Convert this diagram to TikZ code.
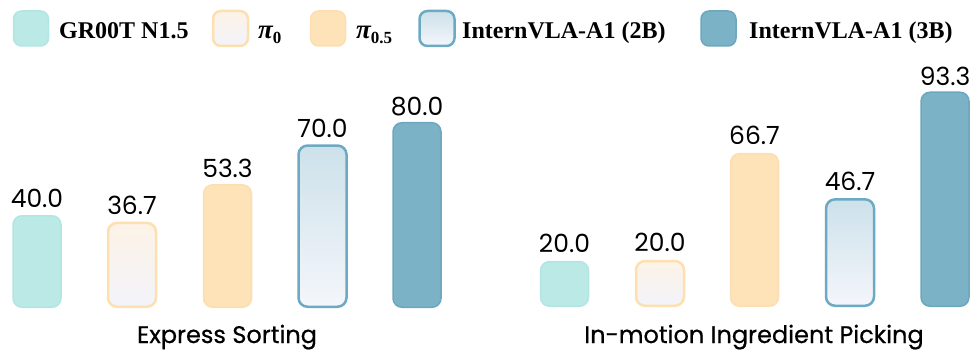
\documentclass[tikz,border=0pt]{standalone}
\usepackage{fontspec}
\setmainfont{Liberation Serif}
\newfontfamily\numfont{Poppins}
\newfontfamily\ttlfont{Poppins}[FakeBold=0.6]
\usetikzlibrary{calc}
\definecolor{grfill}{HTML}{BBE9E6}
\definecolor{grline}{HTML}{B2E5E3}
\definecolor{pitop}{HTML}{FDF3E7}
\definecolor{pibot}{HTML}{F2F3FA}
\definecolor{piline}{HTML}{FDDFB0}
\definecolor{pfill}{HTML}{FEE2B8}
\definecolor{pline}{HTML}{FCDEB2}
\definecolor{itop}{HTML}{CDE1EA}
\definecolor{ibot}{HTML}{F4F6FB}
\definecolor{iline}{HTML}{6CA9C2}
\definecolor{bfill}{HTML}{7BB2C6}
\definecolor{bline}{HTML}{6CA7BE}
\newcommand{\pisub}[1]{{\bfseries\itshape\fontsize{27}{30}\selectfont π}\raisebox{-5pt}{\fontsize{17}{20}\selectfont\bfseries #1}}
\begin{document}
\begin{tikzpicture}[x=1pt,y=-1pt,
 bar/.style={rounded corners=9pt, minimum width=48pt, inner sep=0pt, anchor=south},
 grs/.style={fill=grfill, draw=grline, line width=1.5pt},
 pizs/.style={top color=pitop, bottom color=pibot, draw=piline, line width=2.5pt},
 pifs/.style={fill=pfill, draw=pline, line width=1.5pt},
 itws/.style={top color=itop, bottom color=ibot, draw=iline, line width=2.5pt},
 iths/.style={fill=bfill, draw=bline, line width=1.5pt},
 val/.style={font=\numfont\fontsize{25}{30}\selectfont, anchor=base, inner sep=0pt},
 ttl/.style={font=\ttlfont\fontsize{24}{28}\selectfont, anchor=base, inner sep=0pt},
 key/.style={rounded corners=8pt, minimum size=35pt, inner sep=0pt},
 lab/.style={font=\bfseries\fontsize{24}{28}\selectfont, anchor=base west, inner sep=0pt}]
\useasboundingbox (0,0) rectangle (971,350);

% legend
\node[key, grs] (k1) at (31,28.5) {};
\node[lab] (t1) at (59,39) {GR00T N1.5};
\node[key, pizs] (k2) at (230.5,28.5) {};
\node[lab] (t2) at (258,39) {\pisub{0}};
\node[key, pifs] (k3) at (328,28.5) {};
\node[lab] (t3) at (356,39) {\pisub{0.5}};
\node[key, itws] (k4) at (437,28.5) {};
\node[lab] (t4) at (462,39) {InternVLA-A1 (2B)};
\node[key, iths] (k5) at (718.5,28.5) {};
\node[lab] (t5) at (749,39) {InternVLA-A1 (3B)};

% left chart
\node[bar, grs,  minimum height=91.5pt]  (a1) at (37,308) {};
\node[bar, pizs, minimum height=83.8pt]  (a2) at (132,308) {};
\node[bar, pifs, minimum height=122.4pt] (a3) at (227.5,308) {};
\node[bar, itws, minimum height=161.2pt] (a4) at (322.5,308) {};
\node[bar, iths, minimum height=184.5pt] (a5) at (417,308) {};
\node[val] (va1) at ($(a1.north)+(0,-8)$) {40.0};
\node[val] (va2) at ($(a2.north)+(0,-7)$) {36.7};
\node[val] (va3) at ($(a3.north)+(0,-7)$) {53.3};
\node[val] (va4) at ($(a4.north)+(0,-7)$) {70.0};
\node[val] (va5) at ($(a5.north)+(0,-6)$) {80.0};
\node[ttl] (ta) at (227,343) {Express Sorting};

% right chart
\node[bar, grs,  minimum height=44.7pt]  (b1) at (564.5,307) {};
\node[bar, pizs, minimum height=44.7pt]  (b2) at (660,307) {};
\node[bar, pifs, minimum height=152.6pt] (b3) at (754.5,307) {};
\node[bar, itws, minimum height=106.4pt] (b4) at (850,307) {};
\node[bar, iths, minimum height=214pt]   (b5) at (945,307) {};
\node[val] (vb1) at ($(b1.north)+(0,-8)$) {20.0};
\node[val] (vb2) at ($(b2.north)+(0,-8)$) {20.0};
\node[val] (vb3) at ($(b3.north)+(0,-8)$) {66.7};
\node[val] (vb4) at ($(b4.north)+(0,-8)$) {46.7};
\node[val] (vb5) at ($(b5.north)+(0,-6)$) {93.3};
\node[ttl] (tb) at (754,343) {In-motion Ingredient Picking};
\end{tikzpicture}
\end{document}
